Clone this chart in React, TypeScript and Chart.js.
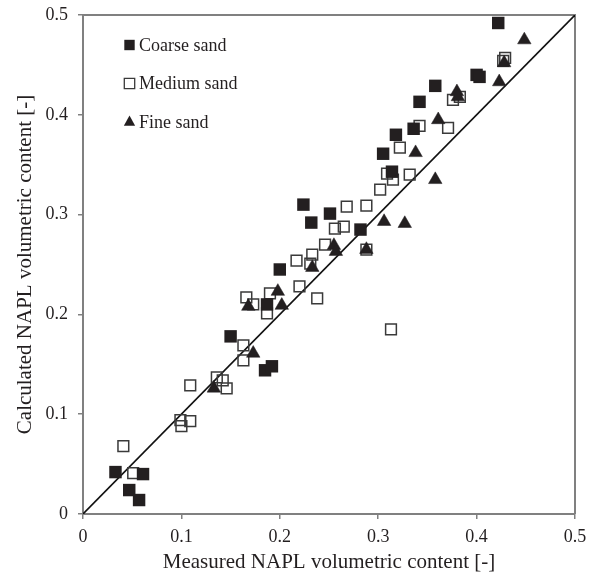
import React, { useEffect, useRef } from 'react';
import { Chart, registerables } from 'chart.js';

Chart.register(...registerables);

// ---- Data ----
const seriesNames = ['Coarse sand', 'Medium sand', 'Fine sand'];

const coarseMeasured = [0.033, 0.047, 0.057, 0.061, 0.150, 0.185, 0.192, 0.187, 0.200, 0.224, 0.232, 0.251, 0.282, 0.305, 0.314, 0.318, 0.336, 0.342, 0.358, 0.400, 0.403, 0.422];
const coarseCalculated = [0.042, 0.024, 0.014, 0.040, 0.178, 0.144, 0.148, 0.210, 0.245, 0.310, 0.292, 0.301, 0.285, 0.361, 0.343, 0.380, 0.386, 0.413, 0.429, 0.440, 0.438, 0.492];

const mediumMeasured = [0.041, 0.051, 0.099, 0.100, 0.109, 0.109, 0.136, 0.142, 0.146, 0.163, 0.163, 0.166, 0.173, 0.187, 0.190, 0.217, 0.220, 0.231, 0.233, 0.238, 0.246, 0.256, 0.265, 0.268, 0.288, 0.288, 0.302, 0.309, 0.315, 0.313, 0.322, 0.332, 0.342, 0.371, 0.376, 0.383, 0.427, 0.429];
const mediumCalculated = [0.068, 0.041, 0.094, 0.088, 0.093, 0.129, 0.137, 0.134, 0.126, 0.169, 0.154, 0.217, 0.210, 0.201, 0.221, 0.254, 0.228, 0.251, 0.260, 0.216, 0.270, 0.286, 0.288, 0.308, 0.309, 0.265, 0.325, 0.341, 0.335, 0.185, 0.367, 0.340, 0.389, 0.387, 0.415, 0.418, 0.454, 0.457];

const fineMeasured = [0.133, 0.173, 0.168, 0.198, 0.202, 0.233, 0.255, 0.257, 0.288, 0.306, 0.327, 0.338, 0.358, 0.361, 0.380, 0.381, 0.423, 0.428, 0.4485];
const fineCalculated = [0.126, 0.161, 0.208, 0.223, 0.209, 0.247, 0.269, 0.263, 0.265, 0.293, 0.291, 0.362, 0.335, 0.395, 0.423, 0.418, 0.433, 0.452, 0.475];

const lineEnds = [0, 0.5];

const xTickLabels = ['0', '0.1', '0.2', '0.3', '0.4', '0.5'];
const yTickLabels = ['0', '0.1', '0.2', '0.3', '0.4', '0.5'];

const xTitle = 'Measured NAPL volumetric content [-]';
const yTitle = 'Calculated NAPL volumetric content [-]';

const toPoints = (xs: number[], ys: number[]) => xs.map((x, i) => ({ x, y: ys[i] }));

const INK = '#231f20';
const FRAME = '#808080';
const FONT = '"Liberation Serif", "Times New Roman", serif';

const framePlugin = {
  id: 'frameTopRight',
  beforeDatasetsDraw(chart: any) {
    const { ctx, chartArea } = chart;
    ctx.save();
    ctx.strokeStyle = FRAME;
    ctx.lineWidth = 2;
    ctx.beginPath();
    ctx.moveTo(chartArea.left, chartArea.top);
    ctx.lineTo(chartArea.right, chartArea.top);
    ctx.lineTo(chartArea.right, chartArea.bottom);
    ctx.stroke();
    ctx.restore();
  },
};

const legendPlugin = {
  id: 'insideLegend',
  afterDatasetsDraw(chart: any) {
    const { ctx, chartArea } = chart;
    const rowOffsets = [30, 68.5, 107];
    ctx.save();
    ctx.font = `18px ${FONT}`;
    ctx.textBaseline = 'middle';
    ctx.textAlign = 'left';
    seriesNames.forEach((name, i) => {
      const ds: any = chart.data.datasets[i];
      const cx = chartArea.left + 46.5;
      const cy = chartArea.top + rowOffsets[i];
      ctx.beginPath();
      if (ds.pointStyle === 'triangle') {
        const r = 6.5;
        ctx.moveTo(cx, cy - r);
        ctx.lineTo(cx + r * 0.866, cy + r * 0.5 + 0.5);
        ctx.lineTo(cx - r * 0.866, cy + r * 0.5 + 0.5);
        ctx.closePath();
        ctx.fillStyle = ds.backgroundColor;
        ctx.fill();
      } else {
        const h = 5.2;
        ctx.rect(cx - h, cy - h, 2 * h, 2 * h);
        if (ds.backgroundColor !== 'rgba(255,255,255,0)') {
          ctx.fillStyle = ds.backgroundColor;
          ctx.fill();
        } else {
          ctx.strokeStyle = ds.borderColor;
          ctx.lineWidth = 1.3;
          ctx.stroke();
        }
      }
      ctx.fillStyle = INK;
      ctx.fillText(name, chartArea.left + 56, cy + 1);
    });
    ctx.restore();
  },
};

export default function App() {
  const canvasRef = useRef<HTMLCanvasElement | null>(null);

  useEffect(() => {
    if (!canvasRef.current) return;
    const chart = new Chart(canvasRef.current, {
      type: 'scatter',
      data: {
        datasets: [
          {
            label: seriesNames[0],
            data: toPoints(coarseMeasured, coarseCalculated),
            pointStyle: 'rect',
            pointRadius: 8.8,
            backgroundColor: INK,
            borderColor: INK,
            borderWidth: 0,
            order: 2,
          },
          {
            label: seriesNames[1],
            data: toPoints(mediumMeasured, mediumCalculated),
            pointStyle: 'rect',
            pointRadius: 7.6,
            backgroundColor: 'rgba(255,255,255,0)',
            borderColor: '#3a3a3a',
            borderWidth: 1.5,
            order: 3,
          },
          {
            label: seriesNames[2],
            data: toPoints(fineMeasured, fineCalculated),
            pointStyle: 'triangle',
            pointRadius: 7.8,
            backgroundColor: INK,
            borderColor: INK,
            borderWidth: 0.5,
            order: 1,
          },
          {
            type: 'line',
            label: '1:1',
            data: toPoints(lineEnds, lineEnds),
            borderColor: '#111111',
            borderWidth: 1.6,
            pointRadius: 0,
            fill: false,
            order: 4,
          } as any,
        ],
      },
      options: {
        animation: false,
        responsive: false,
        devicePixelRatio: 1,
        layout: { padding: { top: 15, right: 19, left: 0, bottom: 0 } },
        plugins: {
          legend: { display: false },
          tooltip: { enabled: false },
        },
        scales: {
          x: {
            type: 'linear',
            min: 0,
            max: 0.5,
            afterFit: (scale: any) => {
              scale.height = 61;
              scale.paddingLeft = 0;
              scale.paddingRight = 0;
            },
            ticks: {
              stepSize: 0.1,
              color: INK,
              padding: 7,
              font: { family: FONT, size: 18 },
              callback: (_v: any, i: number) => xTickLabels[i],
            },
            grid: { drawOnChartArea: false, drawTicks: true, tickLength: 5, color: FRAME, lineWidth: 1.5 },
            border: { display: true, color: FRAME, width: 2 },
            title: {
              display: true,
              text: xTitle,
              color: INK,
              font: { family: FONT, size: 21 },
              padding: { top: 0, bottom: 0 },
            },
          },
          y: {
            type: 'linear',
            min: 0,
            max: 0.5,
            afterFit: (scale: any) => {
              scale.width = 83;
              scale.paddingTop = 0;
              scale.paddingBottom = 0;
            },
            ticks: {
              stepSize: 0.1,
              color: INK,
              padding: 10,
              font: { family: FONT, size: 18 },
              callback: (_v: any, i: number) => yTickLabels[i],
            },
            grid: { drawOnChartArea: false, drawTicks: true, tickLength: 5, color: FRAME, lineWidth: 1.5 },
            border: { display: true, color: FRAME, width: 2 },
            title: {
              display: true,
              text: yTitle,
              color: INK,
              font: { family: FONT, size: 21 },
              padding: { top: 13, bottom: 0 },
            },
          },
        },
      },
      plugins: [framePlugin, legendPlugin],
    });
    return () => chart.destroy();
  }, []);

  return (
    <div style={{ position: 'absolute', left: 0, top: 0, width: 594, height: 575, background: '#ffffff' }}>
      <canvas ref={canvasRef} width={594} height={575} />
    </div>
  );
}
